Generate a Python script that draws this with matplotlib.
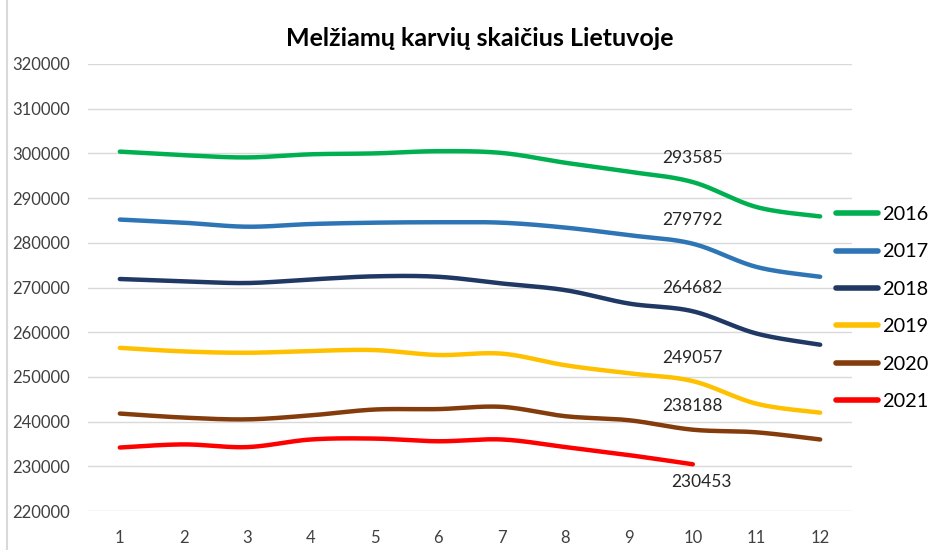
import numpy as np
import matplotlib
matplotlib.use("Agg")
import matplotlib.pyplot as plt
from matplotlib.lines import Line2D

plt.rcParams['font.family'] = ['Lato', 'DejaVu Sans']

months = list(range(1, 13))
years = ['2016', '2017', '2018', '2019', '2020', '2021']
cows_2016 = [300400, 299600, 299100, 299800, 300000, 300500, 300100, 297900, 295900, 293585, 288000, 285900]
cows_2017 = [285200, 284500, 283600, 284200, 284500, 284600, 284500, 283400, 281700, 279792, 274600, 272400]
cows_2018 = [271900, 271400, 271000, 271800, 272500, 272400, 270900, 269400, 266400, 264682, 259700, 257200]
cows_2019 = [256500, 255700, 255400, 255800, 256000, 254900, 255200, 252600, 250800, 249057, 244000, 242000]
cows_2020 = [241800, 240900, 240500, 241400, 242700, 242800, 243300, 241200, 240300, 238188, 237600, 236000]
cows_2021 = [234200, 234900, 234300, 236000, 236200, 235600, 236000, 234300, 232500, 230453]
colors = ['#00B050', '#2E75B6', '#1F3864', '#FFC000', '#843C0C', '#FF0000']
series = [cows_2016, cows_2017, cows_2018, cows_2019, cows_2020, cows_2021]
label_month = 10


def smooth(x, y, n=24):
    # Catmull-Rom curve through the points, like Excel's smoothed line
    x = np.asarray(x, float)
    y = np.asarray(y, float)
    px = np.concatenate([[x[0]], x, [x[-1]]])
    py = np.concatenate([[y[0]], y, [y[-1]]])
    xs, ys = [], []
    t = np.linspace(0, 1, n)
    for i in range(1, len(px) - 2):
        for p, out in ((px, xs), (py, ys)):
            p0, p1, p2, p3 = p[i - 1], p[i], p[i + 1], p[i + 2]
            c1 = p1 + (p2 - p0) / 6
            c2 = p2 - (p3 - p1) / 6
            out.extend((1 - t) ** 3 * p1 + 3 * (1 - t) ** 2 * t * c1
                       + 3 * (1 - t) * t ** 2 * c2 + t ** 3 * p2)
    return np.array(xs), np.array(ys)


fig = plt.figure(figsize=(9.36, 5.5), dpi=100)
ax = fig.add_axes([88 / 936, 1 - 511 / 550, (852 - 88) / 936, (511 - 64) / 550])

for yr, vals, col in zip(years, series, colors):
    sx, sy = smooth(months[:len(vals)], vals)
    ax.plot(sx, sy, color=col, lw=3.2, solid_capstyle='round', label=yr)
    v = vals[label_month - 1]
    if yr == '2021':
        ax.annotate(str(v), (label_month, v), xytext=(6, -13), textcoords='offset points',
                    ha='center', va='center', fontsize=12.5, color='#262626')
    else:
        ax.annotate(str(v), (label_month, v), xytext=(0, 17), textcoords='offset points',
                    ha='center', va='center', fontsize=12.5, color='#262626')

ax.set_xlim(0.5, 12.5)
ax.set_ylim(220000, 320000)
ax.set_xticks(months)
ax.set_yticks(range(220000, 320001, 10000))
ax.tick_params(axis='both', length=0, labelsize=12, labelcolor='#404040')
ax.tick_params(axis='y', pad=13)
ax.tick_params(axis='x', pad=14)
ax.grid(axis='y', color='#D9D9D9', lw=1)
ax.set_axisbelow(True)
for s in ax.spines.values():
    s.set_visible(False)

fig.text(480 / 936, 1 - 38 / 550, 'Melžiamų karvių skaičius Lietuvoje', ha='center', va='center',
         fontsize=18, fontweight='bold', color='#000000')

leg = fig.legend(loc='upper left', bbox_to_anchor=(836 / 936, 1 - 206 / 550), frameon=False,
                 fontsize=14.3, handlelength=2.1, handletextpad=0.2, labelspacing=1.03,
                 borderpad=0, borderaxespad=0)
for t in leg.get_texts():
    t.set_color('#000000')
for h in leg.legend_handles:
    h.set_linewidth(4)

fig.add_artist(Line2D([7 / 936, 7 / 936], [0, 1], color='#D9D9D9', lw=1.5))

fig.savefig('out.png', dpi=100)
